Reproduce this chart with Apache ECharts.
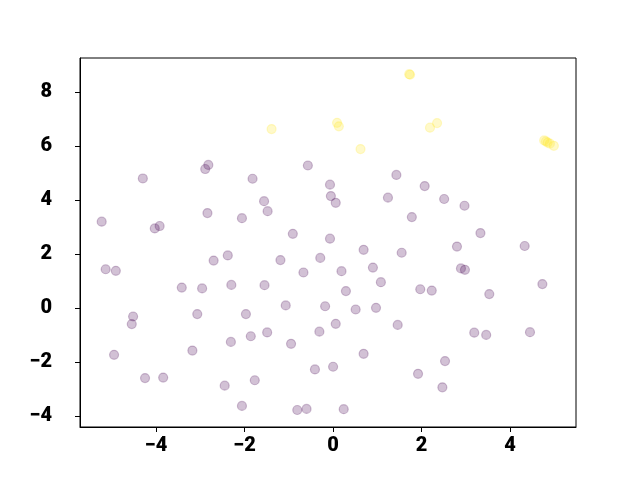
<!DOCTYPE html>
<html>
<head>
<meta charset="utf-8">
<script src="https://cdn.jsdelivr.net/npm/echarts@6/dist/echarts.min.js"></script>
<style>
  html, body { margin: 0; padding: 0; background: #fff; }
  #chart { width: 640px; height: 480px; }
</style>
</head>
<body>
<div id="chart"></div>
<script>
  // cluster 0 (purple) points: [x, y]
  const purplePts = [
    [-4.30, 4.80], [-2.82, 5.30], [-2.89, 5.15], [-0.57, 5.28], [-1.82, 4.79], [1.43, 4.93],
    [-5.23, 3.20], [-2.84, 3.52], [-2.06, 3.33], [-4.03, 2.95], [-3.92, 3.04],
    [-5.14, 1.44], [-4.91, 1.38], [-2.70, 1.76], [-2.38, 1.95], [-3.42, 0.76], [-2.96, 0.73], [-2.30, 0.86],
    [-0.07, 4.57], [-0.05, 4.15], [0.06, 3.90], [1.24, 4.09], [-1.56, 3.96], [-1.48, 3.59], [1.78, 3.37],
    [-0.91, 2.75], [-0.07, 2.57], [0.69, 2.16], [1.55, 2.05], [-1.19, 1.78], [-0.29, 1.86],
    [-0.67, 1.32], [0.19, 1.37], [0.90, 1.50], [-1.55, 0.85], [0.29, 0.63], [1.08, 0.96],
    [2.07, 4.52], [2.51, 4.04], [2.97, 3.79], [3.33, 2.78], [2.80, 2.28], [4.33, 2.30],
    [2.89, 1.47], [2.98, 1.42], [1.97, 0.70], [2.23, 0.65], [4.73, 0.89], [3.53, 0.52],
    [-4.52, -0.31], [-4.55, -0.59], [-3.07, -0.22], [-1.97, -0.22], [-2.31, -1.25], [-3.18, -1.57],
    [-4.95, -1.73], [-4.25, -2.59], [-3.84, -2.57], [-2.45, -2.87], [-2.06, -3.62],
    [-1.07, 0.10], [-0.18, 0.07], [0.51, -0.05], [0.97, 0.01], [1.46, -0.62], [0.06, -0.58],
    [-0.31, -0.87], [-1.49, -0.90], [-1.86, -1.04], [-0.95, -1.32], [0.69, -1.69],
    [-0.41, -2.27], [0.00, -2.17], [-1.77, -2.67], [-0.81, -3.77], [-0.60, -3.73], [0.24, -3.74],
    [3.19, -0.91], [3.46, -0.99], [4.45, -0.89], [2.53, -1.96], [1.92, -2.43], [2.47, -2.93]
  ];
  // cluster 1 (yellow) points
  const yellowPts = [
    [-1.39, 6.63], [0.09, 6.86], [0.13, 6.73], [0.62, 5.89], [1.72, 8.66], [1.74, 8.64],
    [2.19, 6.68], [2.35, 6.85], [4.77, 6.21], [4.81, 6.17], [4.85, 6.13], [4.90, 6.09], [4.99, 6.01]
  ];
  const xTicks = [-4, -2, 0, 2, 4];
  const yTicks = [-4, -2, 0, 2, 4, 6, 8];

  const chart = echarts.init(document.getElementById('chart'));

  const fmt = v => String(v).replace('-', '\u2212');
  const tickLabel = {
    color: '#000', fontSize: 20, fontWeight: 900, fontFamily: 'Roboto', formatter: fmt
  };

  chart.setOption({
    animation: false,
    grid: {
      left: 80, right: 64, top: 58, bottom: 53,
      show: true, borderColor: '#000', borderWidth: 1, backgroundColor: 'transparent'
    },
    xAxis: {
      type: 'value', min: -5.72, max: 5.49,
      splitLine: { show: false },
      axisLine: { show: true, onZero: false, lineStyle: { color: '#000' } },
      axisTick: { show: true, length: 5, customValues: xTicks, lineStyle: { color: '#000' } },
      axisLabel: Object.assign({ customValues: xTicks, margin: 9 }, tickLabel)
    },
    yAxis: {
      type: 'value', min: -4.40, max: 9.26,
      splitLine: { show: false },
      axisLine: { show: true, onZero: false, lineStyle: { color: '#000' } },
      axisTick: { show: true, length: 5, customValues: yTicks, lineStyle: { color: '#000' } },
      axisLabel: Object.assign({ customValues: yTicks, margin: 28, padding: [4, 0, 0, 0] }, tickLabel)
    },
    series: [
      {
        type: 'scatter', data: purplePts, symbolSize: 9,
        itemStyle: { color: 'rgba(68,1,84,0.3)', borderColor: 'rgba(68,1,84,0.3)', borderWidth: 1.2 }
      },
      {
        type: 'scatter', data: yellowPts, symbolSize: 9,
        itemStyle: { color: 'rgba(253,231,37,0.3)', borderColor: 'rgba(253,231,37,0.3)', borderWidth: 1.2 }
      }
    ]
  });
</script>
</body>
</html>
